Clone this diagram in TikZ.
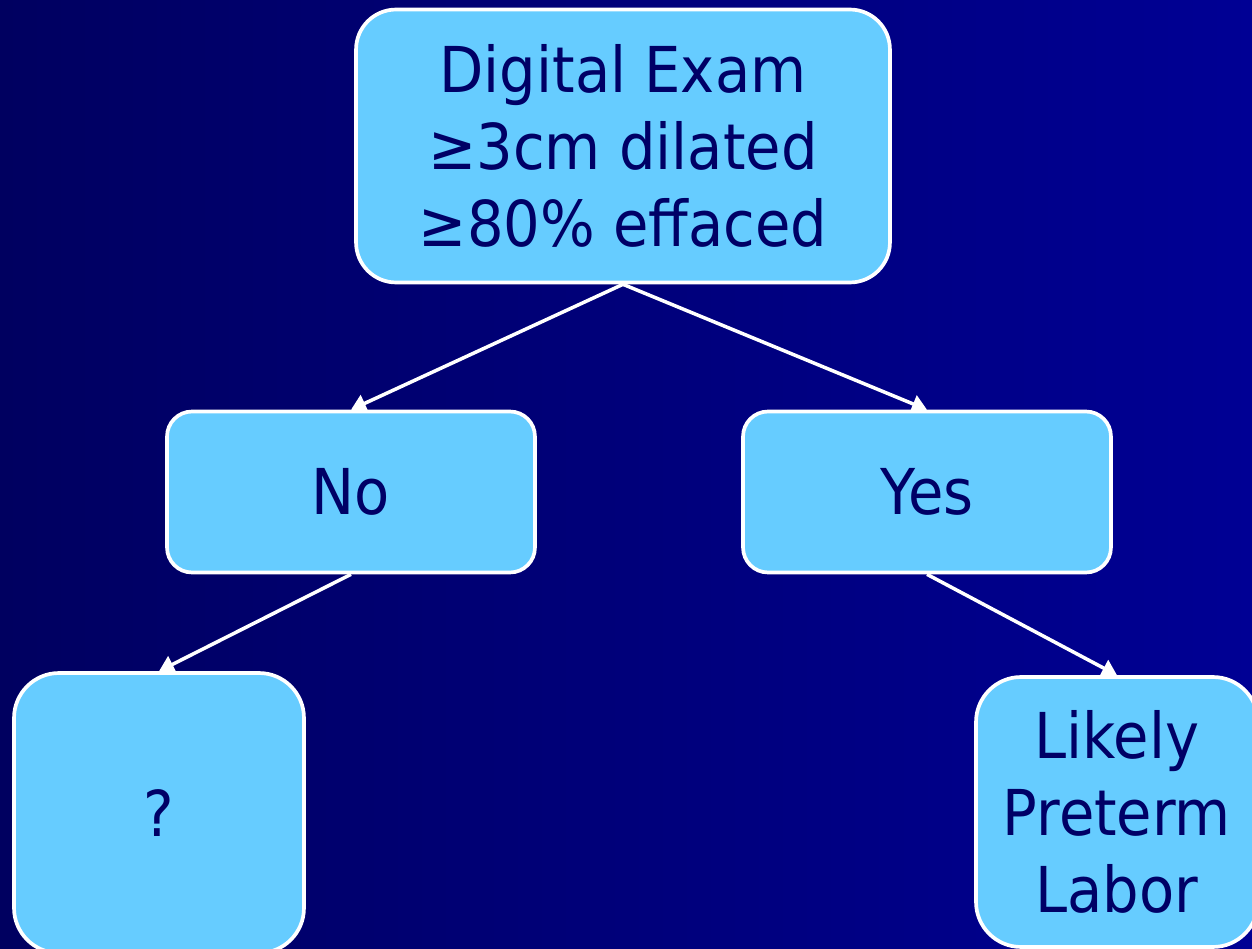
\documentclass[tikz,border=0pt]{standalone}
\usepackage{fontspec}
\setmainfont{DejaVu Sans}[FakeStretch=0.91]
\usetikzlibrary{arrows.meta, positioning}
\definecolor{navyleft}{RGB}{0, 0, 96}
\definecolor{navyright}{RGB}{0, 0, 148}
\definecolor{skybox}{RGB}{102, 204, 255}
\definecolor{inkblue}{RGB}{0, 0, 102}

\begin{document}
\begin{tikzpicture}[x=0.02cm, y=-0.02cm,
        decision/.style={draw=white, fill=skybox, line width=2.1pt,
            text=inkblue, align=center, inner sep=0pt,
            font=\fontsize{36}{43.7}\selectfont},
        branch/.style={draw=white, line width=2pt,
            -{Triangle[width=0.36cm, length=0.3cm]}}]
    % slide background
    \useasboundingbox (0,0) rectangle (1252,949);
    \shade[left color=navyleft, right color=navyright] (0,0) rectangle (1252,949);

    % question and answers
    \node[decision, rounded corners=0.8cm, minimum width=10.68cm, minimum height=5.46cm]
        (exam) at (623,146) {Digital Exam\\≥3cm dilated\\≥80\% effaced};
    \node[decision, rounded corners=0.5cm, minimum width=7.36cm, minimum height=3.22cm]
        (no) at (351,492) {No};
    \node[decision, rounded corners=0.5cm, minimum width=7.36cm, minimum height=3.22cm]
        (yes) at (927,492) {Yes};
    \node[decision, rounded corners=0.9cm, minimum width=5.8cm, minimum height=5.6cm]
        (unknown) at (159,813) {?};
    \node[decision, rounded corners=0.9cm, minimum width=5.64cm, minimum height=5.4cm]
        (labor) at (1117,812) {Likely\\Preterm\\Labor};

    % branches
    \draw[branch] (exam.south) -- (no.north);
    \draw[branch] (exam.south) -- (yes.north);
    \draw[branch] (no.south) -- (unknown.north);
    \draw[branch] (yes.south) -- (labor.north);
\end{tikzpicture}
\end{document}
